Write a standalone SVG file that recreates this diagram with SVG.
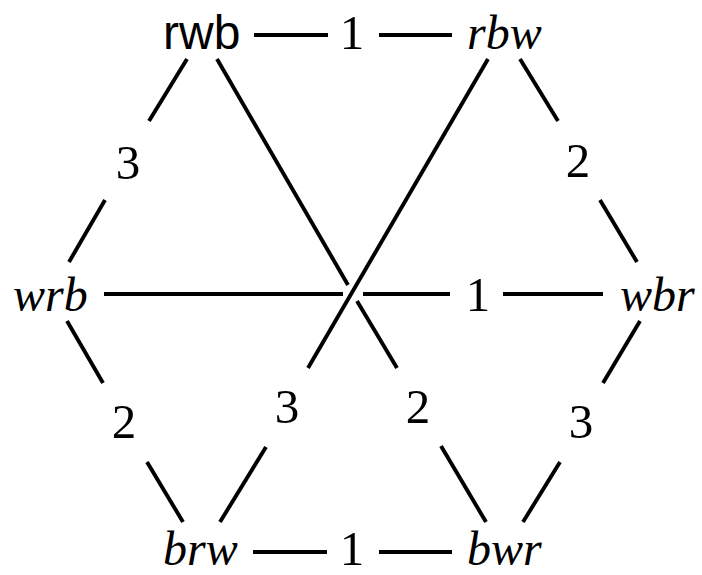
<svg xmlns="http://www.w3.org/2000/svg" width="702" height="575" viewBox="0 0 702 575">
<style>
  .e { stroke: #000; stroke-width: 3.9; fill: none; stroke-linecap: butt; }
  .m { font-family: "Liberation Serif", "DejaVu Serif", serif; font-style: italic; font-size: 48px; fill: #000; }
  .s { font-family: "Liberation Sans", "DejaVu Sans", sans-serif; font-size: 48px; fill: #000; }
  .n { font-family: "Liberation Serif", "DejaVu Serif", serif; font-size: 49px; fill: #000; text-anchor: middle; }
</style>
<rect width="702" height="575" fill="#fff"/>
<g id="connectors">
  <g id="e-rwb-rbw"><line class="e" x1="254" y1="35" x2="328" y2="35"/><line class="e" x1="379" y1="35" x2="452" y2="35"/><text class="n" x="352" y="49">1</text></g>
  <g id="e-brw-bwr"><line class="e" x1="253" y1="552" x2="327" y2="552"/><line class="e" x1="379" y1="552" x2="452" y2="552"/><text class="n" x="352" y="565">1</text></g>
  <g id="e-wrb-wbr"><line class="e" x1="104" y1="294" x2="343" y2="294"/><line class="e" x1="363" y1="294" x2="450" y2="294"/><line class="e" x1="503" y1="294" x2="603" y2="294"/><text class="n" x="478" y="311">1</text></g>
  <g id="e-rwb-wrb"><line class="e" x1="187" y1="59" x2="149" y2="121"/><line class="e" x1="105" y1="200" x2="69" y2="262"/><text class="n" x="128" y="179">3</text></g>
  <g id="e-wrb-brw"><line class="e" x1="67" y1="321" x2="103" y2="383"/><line class="e" x1="147" y1="462" x2="183" y2="522"/><text class="n" x="124" y="438">2</text></g>
  <g id="e-rbw-wbr"><line class="e" x1="520" y1="59" x2="558" y2="121"/><line class="e" x1="600" y1="200" x2="637" y2="262"/><text class="n" x="578" y="177">2</text></g>
  <g id="e-wbr-bwr"><line class="e" x1="640" y1="321" x2="603" y2="383"/><line class="e" x1="560" y1="462" x2="523" y2="522"/><text class="n" x="581" y="438">3</text></g>
  <g id="e-rwb-bwr"><line class="e" x1="217" y1="59" x2="348" y2="285"/><line class="e" x1="357" y1="301" x2="397" y2="368"/><line class="e" x1="441" y1="446" x2="486" y2="522"/><text class="n" x="418" y="423">2</text></g>
  <g id="e-rbw-brw"><line class="e" x1="488" y1="59" x2="308" y2="368"/><line class="e" x1="266" y1="447" x2="220" y2="522"/><text class="n" x="287" y="423">3</text></g>
</g>
<g id="rwb"><text class="s" x="163" y="49">rwb</text></g>
<g id="rbw"><text class="m" x="467" y="49">rbw</text></g>
<g id="wrb"><text class="m" x="13" y="311">wrb</text></g>
<g id="wbr"><text class="m" x="620" y="311">wbr</text></g>
<g id="brw"><text class="m" x="163" y="565">brw</text></g>
<g id="bwr"><text class="m" x="467" y="565">bwr</text></g>
</svg>
